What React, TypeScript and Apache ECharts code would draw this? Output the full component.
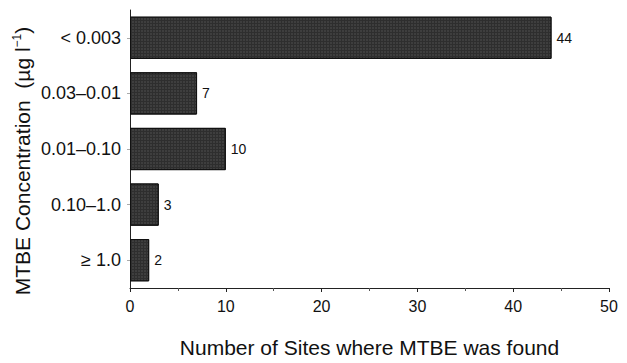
import React, { useEffect, useRef } from "react";
import * as echarts from "echarts";

const categories = ["< 0.003", "0.03–0.01", "0.01–0.10", "0.10–1.0", "≥ 1.0"];
const siteCounts = [44, 7, 10, 3, 2];
const xTicks = [0, 10, 20, 30, 40, 50];

export default function App() {
  const ref = useRef<HTMLDivElement>(null);
  useEffect(() => {
    if (!ref.current) return;
    const chart = echarts.init(ref.current, null, { renderer: "svg" });
    const font = "'Liberation Sans', Arial, Helvetica, sans-serif";
    chart.setOption({
      animation: false,
      backgroundColor: "#fff",
      textStyle: { fontFamily: font },
      grid: { left: 130, right: 18, top: 10, bottom: 57, containLabel: false },
      graphic: [
        {
          type: "text",
          x: 22,
          y: 161,
          rotation: Math.PI / 2,
          style: {
            text: "MTBE Concentration  (µg l{sup|−1})",
            font: `21px ${font}`,
            fill: "#111",
            align: "center",
            verticalAlign: "middle",
            rich: {
              base: {},
              sup: { fontSize: 12, fontFamily: font, fill: "#111", verticalAlign: "top", padding: [0, 0, 10, 0] },
            },
          },
        },
      ],
      xAxis: {
        type: "value",
        min: xTicks[0],
        max: xTicks[xTicks.length - 1],
        interval: 10,
        name: "Number of Sites where MTBE was found",
        nameLocation: "middle",
        nameGap: 49,
        nameTextStyle: { fontSize: 21, color: "#111", fontFamily: font },
        axisLine: { show: true, lineStyle: { color: "#222", width: 1 } },
        axisTick: { show: true, length: 4, lineStyle: { color: "#222" } },
        minorTick: { show: true, splitNumber: 2, length: 3, lineStyle: { color: "#555" } },
        axisLabel: { fontSize: 16, color: "#111", margin: 10, fontFamily: font },
        splitLine: { show: false },
      },
      yAxis: {
        type: "category",
        data: categories,
        inverse: true,
        axisLine: { show: true, lineStyle: { color: "#222", width: 1 } },
        axisTick: { show: true, length: 3, alignWithLabel: true, lineStyle: { color: "#aaa" } },
        axisLabel: { fontSize: 18, color: "#111", margin: 9, fontFamily: font },
        splitLine: { show: false },
      },
      series: [
        {
          type: "bar",
          data: siteCounts,
          barCategoryGap: "24%",
          itemStyle: {
            color: "#2e2e2e",
            borderColor: "#111",
            borderWidth: 1,
            decal: {
              symbol: "rect",
              symbolSize: 0.6,
              dashArrayX: [2, 1],
              dashArrayY: [2, 1],
              color: "rgba(160,160,160,0.45)",
              rotation: 0,
            },
          },
          label: {
            show: true,
            position: "right",
            distance: 5,
            fontSize: 14,
            color: "#111",
            fontFamily: font,
          },
        },
      ],
    });
    return () => chart.dispose();
  }, []);
  return (
    <div
      ref={ref}
      style={{ position: "fixed", left: 0, top: 0, width: 627, height: 363, background: "#fff" }}
    />
  );
}
